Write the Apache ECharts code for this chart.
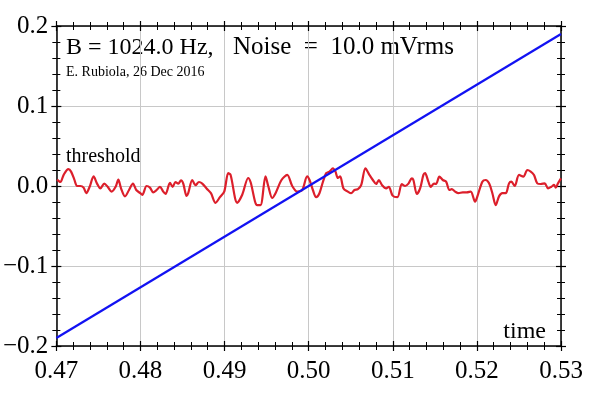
<!DOCTYPE html>
<html>
<head>
<meta charset="utf-8">
<script src="https://cdn.jsdelivr.net/npm/echarts@6/dist/echarts.min.js"></script>
<style>
  html, body { margin: 0; padding: 0; background: #fff; }
  #chart { width: 590px; height: 394px; }
</style>
</head>
<body>
<div id="chart"></div>
<script>
// noise trace
var noiseTime = [0.47008, 0.47048, 0.47087, 0.47143, 0.47175, 0.47214, 0.47246, 0.47285, 0.47324, 0.47356,
  0.47396, 0.47443, 0.47484, 0.47523, 0.47570, 0.47610, 0.47657, 0.47705, 0.47737, 0.47769,
  0.47816, 0.47864, 0.47911, 0.47950, 0.47998, 0.48022, 0.48073, 0.48113, 0.48152, 0.48192,
  0.48232, 0.48271, 0.48299, 0.48351, 0.48382, 0.48417, 0.48450, 0.48482, 0.48509, 0.48548,
  0.48568, 0.48616, 0.48655, 0.48696, 0.48735, 0.48786, 0.48838, 0.48893, 0.48945, 0.48996,
  0.49044, 0.49071, 0.49151, 0.49210, 0.49281, 0.49309, 0.49388, 0.49427, 0.49487, 0.49519,
  0.49566, 0.49606, 0.49677, 0.49745, 0.49804, 0.49863, 0.49923, 0.49982, 0.50010, 0.50050,
  0.50089, 0.50128, 0.50169, 0.50208, 0.50247, 0.50288, 0.50318, 0.50347, 0.50374, 0.50414,
  0.50466, 0.50505, 0.50544, 0.50585, 0.50624, 0.50675, 0.50722, 0.50763, 0.50802, 0.50834,
  0.50873, 0.50921, 0.50953, 0.50998, 0.51055, 0.51107, 0.51147, 0.51186, 0.51226, 0.51245,
  0.51286, 0.51325, 0.51364, 0.51384, 0.51423, 0.51452, 0.51491, 0.51515, 0.51554, 0.51595,
  0.51634, 0.51673, 0.51701, 0.51741, 0.51780, 0.51832, 0.51880, 0.51927, 0.51978, 0.52006,
  0.52065, 0.52105, 0.52145, 0.52184, 0.52224, 0.52263, 0.52303, 0.52343, 0.52382, 0.52410,
  0.52450, 0.52501, 0.52552, 0.52600, 0.52640, 0.52679, 0.52718, 0.52759, 0.52806, 0.52846,
  0.52885, 0.52917, 0.52937, 0.52964, 0.53000]
var noiseValue = [0.008, 0.005, 0.014, 0.021, 0.018, 0.008, 0.000, 0.000, -0.002, -0.009,
  -0.001, 0.012, 0.003, -0.003, 0.003, -0.001, -0.007, -0.001, 0.008, -0.003,
  -0.013, -0.005, 0.003, -0.005, -0.009, -0.011, 0.000, -0.002, -0.008, -0.005,
  -0.001, -0.007, -0.010, 0.004, -0.001, 0.005, 0.003, 0.007, 0.003, -0.0125,
  -0.009, 0.0075, 0.001, 0.005, 0.003, -0.003, -0.009, -0.021, -0.014, -0.007,
  0.016, 0.014, -0.021, -0.011, 0.010, 0.005, -0.024, -0.024, 0.012, 0.000,
  -0.015, -0.009, 0.0075, 0.014, 0.000, -0.007, -0.005, 0.012, 0.0075, -0.005,
  -0.014, -0.009, 0.005, 0.016, 0.018, 0.022, 0.018, 0.010, 0.012, -0.003,
  -0.007, -0.009, -0.005, -0.004, 0.001, 0.022, 0.014, 0.0075, 0.0025, 0.0075,
  0.001, -0.003, -0.001, -0.012, -0.014, 0.0025, 0.000, 0.003, 0.0096, 0.0075,
  -0.010, -0.003, 0.0138, 0.016, 0.0054, -0.001, 0.003, 0.0025, 0.0117, 0.0075,
  0.0054, -0.005, -0.004, -0.007, -0.009, -0.008, -0.008, -0.007, -0.0196, -0.013,
  0.0054, 0.0075, 0.0033, -0.009, -0.024, -0.013, -0.009, -0.009, 0.0033, 0.0054,
  0.000, 0.0138, 0.0117, 0.020, 0.018, 0.0138, 0.0033, 0.0025, 0.0033, -0.003,
  -0.001, 0.0013, -0.002, 0.0033, 0.0096]

// threshold ramp
var rampTime = [0.47, 0.53]
var rampValue = [-0.19, 0.19]

var bandText = 'B = 1024.0 Hz,'
var noiseText = 'Noise  =  10.0 mVrms'
var authorText = 'E. Rubiola, 26 Dec 2016'

var serif = '"Liberation Serif", "DejaVu Serif", serif'

function pairs(xs, ys) {
  return xs.map(function (x, i) { return [x, ys[i]] })
}

function xLabel(v) { return v.toFixed(2) }
function yLabel(v) {
  var s = Math.abs(v) < 1e-9 ? '0.0' : v.toFixed(1)
  return s.replace('-', '\u2212')
}

// one axis = inside ticks, twin axis = outside ticks (ticks cross the frame)
function xAx(pos, inside, main) {
  return {
    type: 'value', position: pos, min: 0.47, max: 0.53, interval: 0.01,
    axisLine: { show: main, onZero: false, lineStyle: { color: '#000', width: 1.5 } },
    axisTick: { show: true, inside: inside, length: 5, lineStyle: { color: '#000', width: 1.2 } },
    minorTick: { show: true, splitNumber: 5, length: 4, lineStyle: { color: '#000', width: 1 } },
    axisLabel: { show: main && pos === 'bottom', formatter: xLabel, margin: 13,
      fontFamily: serif, fontSize: 25, color: '#000' },
    splitLine: { show: main && pos === 'bottom', lineStyle: { color: '#c8c8c8', width: 1 } }
  }
}
function yAx(pos, inside, main) {
  return {
    type: 'value', position: pos, min: -0.2, max: 0.2, interval: 0.1,
    axisLine: { show: main, onZero: false, lineStyle: { color: '#000', width: 1.5 } },
    axisTick: { show: true, inside: inside, length: 5, lineStyle: { color: '#000', width: 1.2 } },
    minorTick: { show: true, splitNumber: 5, length: 4, lineStyle: { color: '#000', width: 1 } },
    axisLabel: { show: main && pos === 'left', formatter: yLabel, margin: 8,
      fontFamily: serif, fontSize: 25, color: '#000' },
    splitLine: { show: main && pos === 'left', lineStyle: { color: '#c8c8c8', width: 1 } }
  }
}

var chart = echarts.init(document.getElementById('chart'))
chart.setOption({
  animation: false,
  backgroundColor: '#fff',
  grid: { left: 56, right: 29, top: 26, bottom: 48 },
  xAxis: [
    xAx('bottom', true, true), xAx('bottom', false, false),
    xAx('top', true, true), xAx('top', false, false)
  ],
  yAxis: [
    yAx('left', true, true), yAx('left', false, false),
    yAx('right', true, true), yAx('right', false, false)
  ],
  graphic: [
    { type: 'text', left: 66, top: 36, style: { text: bandText, font: '24px ' + serif, fill: '#000' } },
    { type: 'text', left: 233, top: 35, style: { text: noiseText, font: '25px ' + serif, fill: '#000' } },
    { type: 'text', left: 66, top: 65, style: { text: authorText, font: '14px ' + serif, fill: '#000' } },
    { type: 'text', left: 66, top: 147, style: { text: 'threshold', font: '20px ' + serif, fill: '#000' } },
    { type: 'text', right: 44, top: 320, style: { text: 'time', font: '24px ' + serif, fill: '#000' } }
  ],
  series: [
    {
      type: 'line', name: 'noise', data: pairs(noiseTime, noiseValue),
      showSymbol: false, smooth: 0.3,
      lineStyle: { color: '#dc1f2b', width: 2.2 }
    },
    {
      type: 'line', name: 'ramp', data: pairs(rampTime, rampValue),
      showSymbol: false,
      lineStyle: { color: '#1212f2', width: 2.2 }
    }
  ]
})
</script>
</body>
</html>
